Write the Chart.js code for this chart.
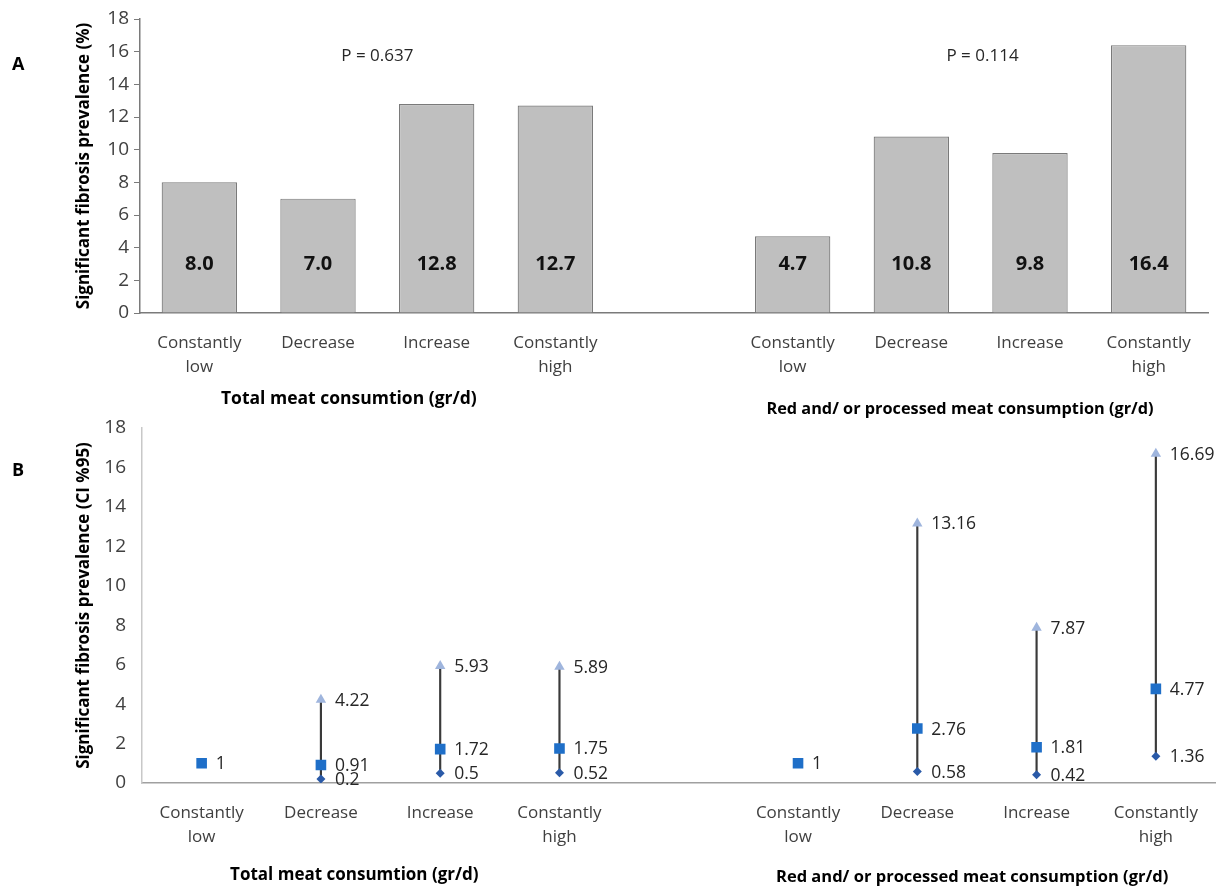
<!DOCTYPE html>
<html>
<head>
<meta charset="utf-8">
<script src="https://cdn.jsdelivr.net/npm/chart.js@4.4.0/dist/chart.umd.min.js"></script>
<style>
  html, body { margin: 0; padding: 0; background: #ffffff; }
  #page { position: relative; width: 1223px; height: 889px; overflow: hidden; }
  #boxA { position: absolute; left: 0; top: 0; width: 1223px; height: 425px; }
  #boxB { position: absolute; left: 0; top: 400px; width: 1223px; height: 489px; }
  canvas { display: block; }
</style>
</head>
<body>
<div id="page">
  <div id="boxB"><canvas id="chartB" width="1223" height="489"></canvas></div>
  <div id="boxA"><canvas id="chartA" width="1223" height="425"></canvas></div>
</div>
<script>
// Trajectory groups: two blocks of four, separated by an empty slot
const categories = [
  ["Constantly", "low"], "Decrease", "Increase", ["Constantly", "high"],
  "",
  ["Constantly", "low"], "Decrease", "Increase", ["Constantly", "high"]
];
const groupTitles = ["Total meat consumtion (gr/d)", "Red and/ or processed meat consumption (gr/d)"];

// Panel A: prevalence of significant fibrosis (%)
const prevalence = [8.0, 7.0, 12.8, 12.7, null, 4.7, 10.8, 9.8, 16.4];
const pValues = ["P = 0.637", "P = 0.114"];

// Panel B: estimate with 95% confidence limits
const ciEstimate = [1, 0.91, 1.72, 1.75, null, 1, 2.76, 1.81, 4.77];
const ciLower = [null, 0.2, 0.5, 0.52, null, null, 0.58, 0.42, 1.36];
const ciUpper = [null, 4.22, 5.93, 5.89, null, null, 13.16, 7.87, 16.69];

const yMin = 0, yMax = 18, yStep = 2;

const FONT = "'Open Sans', 'Liberation Sans', sans-serif";
const tickColor = '#404040';

Chart.defaults.font.family = FONT;

const xTickFont = { size: 17, lineHeight: 1.4 };
const yTickFont = { size: 19 };
const yTitleFont = { size: 17, weight: 'bold' };

// ---------- Panel A ----------
const panelAText = {
  id: 'panelAText',
  afterDatasetsDraw(chart) {
    const { ctx, scales: { x, y } } = chart;
    const meta = chart.getDatasetMeta(0);
    ctx.save();
    // values inside bars
    ctx.font = "bold 20px " + FONT;
    ctx.fillStyle = '#111111';
    ctx.textAlign = 'center';
    ctx.textBaseline = 'middle';
    meta.data.forEach((bar, i) => {
      const v = prevalence[i];
      if (v == null) return;
      ctx.fillText(v.toFixed(1), bar.x, y.getPixelForValue(3));
    });
    // p-values
    ctx.font = "17px " + FONT;
    ctx.fillStyle = '#262626';
    ctx.fillText(pValues[0], x.getPixelForValue(1.5), y.getPixelForValue(15.75));
    ctx.fillText(pValues[1], x.getPixelForValue(6.6), y.getPixelForValue(15.75));
    // group titles under the axis
    ctx.fillStyle = '#000000';
    ctx.font = "bold 17.5px " + FONT;
    ctx.fillText(groupTitles[0], x.getPixelForValue(1.26), 399);
    ctx.font = "bold 16.3px " + FONT;
    ctx.fillText(groupTitles[1], x.getPixelForValue(6.41), 409);
    // panel letter
    ctx.font = "bold 18px " + FONT;
    ctx.textAlign = 'left';
    ctx.fillText('A', 12, 65);
    ctx.restore();
  }
};

new Chart(document.getElementById('chartA'), {
  type: 'bar',
  data: {
    labels: categories,
    datasets: [{
      data: prevalence,
      backgroundColor: '#bfbfbf',
      borderColor: '#7a7a7a',
      borderWidth: 1.2,
      categoryPercentage: 1,
      barPercentage: 0.635
    }]
  },
  options: {
    responsive: false,
    animation: false,
    devicePixelRatio: 1,
    layout: { padding: { left: 72, right: 15, top: 19, bottom: 0 } },
    plugins: { legend: { display: false }, tooltip: { enabled: false } },
    scales: {
      x: {
        grid: { display: false },
        border: { color: '#7a7a7a', width: 1.5 },
        ticks: { font: xTickFont, color: tickColor, padding: 10, maxRotation: 0, autoSkip: false },
        afterFit(s) { s.height = 112; }
      },
      y: {
        min: yMin, max: yMax,
        ticks: { stepSize: yStep, font: yTickFont, color: tickColor, padding: 5 },
        grid: { display: true, drawOnChartArea: false, drawTicks: true, tickLength: 6, color: '#7a7a7a' },
        border: { color: '#7a7a7a', width: 1.5 },
        title: { display: true, text: 'Significant fibrosis prevalence (%)', font: yTitleFont, color: '#000000', padding: { top: 2, bottom: 2 } },
        afterFit(s) { s.width = 68; }
      }
    }
  },
  plugins: [panelAText]
});

// ---------- Panel B ----------
const panelBText = {
  id: 'panelBText',
  afterDatasetsDraw(chart) {
    const { ctx, scales: { x } } = chart;
    ctx.save();
    ctx.font = "17.5px " + FONT;
    ctx.fillStyle = '#262626';
    ctx.textAlign = 'left';
    ctx.textBaseline = 'middle';
    [1, 2, 3].forEach(di => {
      const meta = chart.getDatasetMeta(di);
      const vals = chart.data.datasets[di].data;
      meta.data.forEach((pt, i) => {
        if (vals[i] == null) return;
        ctx.fillText(String(vals[i]), pt.x + 14, pt.y + 1);
      });
    });
    ctx.fillStyle = '#000000';
    ctx.textAlign = 'center';
    ctx.font = "bold 17px " + FONT;
    ctx.fillText(groupTitles[0], x.getPixelForValue(1.28), 475);
    ctx.font = "bold 16.5px " + FONT;
    ctx.fillText(groupTitles[1], x.getPixelForValue(6.46), 477);
    ctx.font = "bold 18px " + FONT;
    ctx.textAlign = 'left';
    ctx.fillText('B', 12, 71);
    ctx.restore();
  }
};

new Chart(document.getElementById('chartB'), {
  data: {
    labels: categories,
    datasets: [
      {
        type: 'bar',
        data: ciLower.map((lo, i) => (lo == null ? null : [lo, ciUpper[i]])),
        backgroundColor: '#3a3a3a',
        barThickness: 1.5,
        order: 10
      },
      {
        type: 'line',
        data: ciUpper,
        showLine: false,
        pointStyle: 'triangle',
        pointRadius: 6,
        pointBackgroundColor: '#9fb5dd',
        pointBorderColor: '#9fb5dd',
        pointBorderWidth: 0,
        order: 1
      },
      {
        type: 'line',
        data: ciEstimate,
        showLine: false,
        pointStyle: 'rect',
        pointRadius: 7.5,
        pointBackgroundColor: '#1f6fc8',
        pointBorderColor: '#1f6fc8',
        pointBorderWidth: 0,
        order: 0
      },
      {
        type: 'line',
        data: ciLower,
        showLine: false,
        pointStyle: 'rectRot',
        pointRadius: 4.5,
        pointBackgroundColor: '#2a5aa8',
        pointBorderColor: '#2a5aa8',
        pointBorderWidth: 0,
        order: 2
      }
    ]
  },
  options: {
    responsive: false,
    animation: false,
    devicePixelRatio: 1,
    layout: { padding: { left: 72, right: 4, top: 28, bottom: 0 } },
    plugins: { legend: { display: false }, tooltip: { enabled: false } },
    scales: {
      x: {
        type: 'category',
        offset: true,
        grid: { display: false },
        border: { color: '#a0a0a0', width: 1.5 },
        ticks: { font: xTickFont, color: tickColor, padding: 10, maxRotation: 0, autoSkip: false },
        afterFit(s) { s.height = 106; }
      },
      y: {
        min: yMin, max: yMax,
        ticks: { stepSize: yStep, font: yTickFont, color: tickColor, padding: 8 },
        grid: { display: false },
        border: { color: '#c8c8c8', width: 1.5 },
        title: { display: true, text: 'Significant fibrosis prevalence (CI %95)', font: yTitleFont, color: '#000000', padding: { top: 2, bottom: 2 } },
        afterFit(s) { s.width = 70; }
      }
    }
  },
  plugins: [panelBText]
});
</script>
</body>
</html>
